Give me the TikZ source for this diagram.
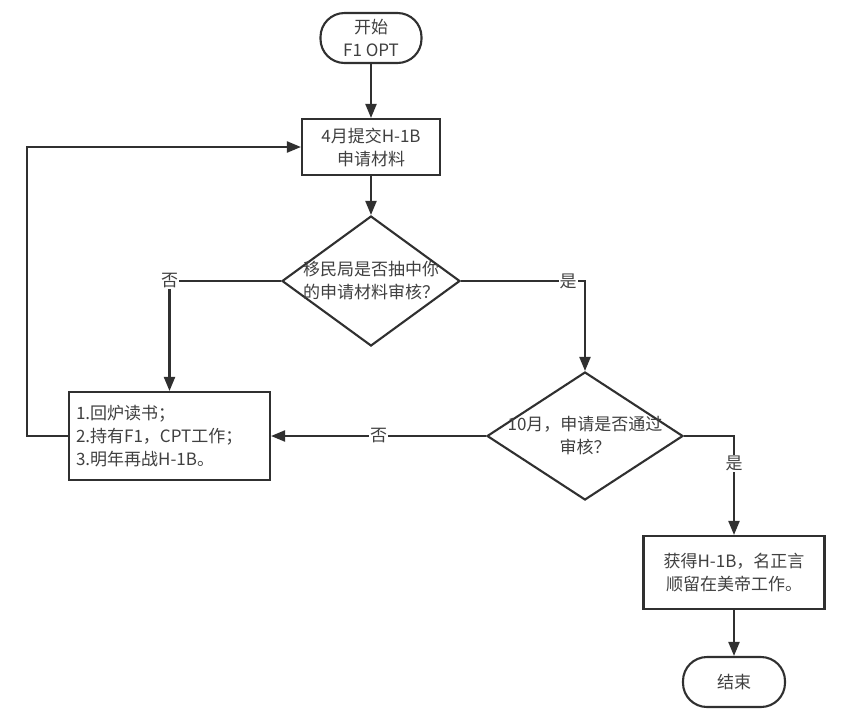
\documentclass[tikz,border=0pt]{standalone}
\usepackage{fontspec}
\setmainfont{Noto Sans CJK SC}
\usetikzlibrary{shapes.geometric,arrows.meta}
\definecolor{linec}{HTML}{303030}
\definecolor{textc}{HTML}{404040}
\begin{document}
\begin{tikzpicture}[x=1pt,y=-1pt,
  txt/.style={font=\fontsize{17}{23}\selectfont, text=textc},
  line/.style={draw=linec, line width=2.1pt},
  arr/.style={line, -{Triangle[length=14pt,width=11pt]}},
  term/.style={txt, draw=linec, line width=2.1pt, rectangle, rounded corners=24pt, minimum width=101pt, minimum height=50pt, inner sep=0pt, align=center},
  proc/.style={txt, draw=linec, line width=2.1pt, rectangle, inner sep=0pt, align=center},
  dec/.style={draw=linec, line width=2.1pt, diamond, inner sep=0pt},
  lbl/.style={txt, fill=white, inner sep=1pt}
]
\useasboundingbox[fill=white] (0,0) rectangle (852,724);

\node[term] (start) at (371,38) {开始\\F1 OPT};
\node[proc, minimum width=138pt, minimum height=56pt] (b1) at (371,147) {4月提交H-1B\\申请材料};
\node[dec, minimum width=178pt, minimum height=130pt] (d1) at (371,281) {};
\node[txt, align=center] (t1) at (371,281) {移民局是否抽中你\\的申请材料审核？};
\node[proc, minimum width=201pt, minimum height=88pt, align=left, text width=187pt] (b2) at (169.5,436) {1.回炉读书；\\2.持有F1，CPT工作；\\3.明年再战H-1B。};
\node[dec, minimum width=196pt, minimum height=128pt] (d2) at (585,436) {};
\node[txt, align=center] (t2) at (585,436) {10月，申请是否通过\\审核？};
\node[proc, minimum width=181pt, minimum height=73pt] (b3) at (734,572.5) {获得H-1B，名正言\\顺留在美帝工作。};
\node[term, minimum width=102pt] (end) at (734,682) {结束};

\draw[arr] (start) -- (b1);
\draw[arr] (b1) -- (d1);
\draw[arr] (d1.west) -| node[lbl, pos=0.5] {否} (b2.north);
\draw[arr] (d1.east) -| node[lbl, pos=0.432] {是} (d2.north);
\draw[arr] (d2.west) -- node[lbl] {否} (b2.east);
\draw[arr] (d2.east) -| node[lbl, pos=0.64] {是} (b3.north);
\draw[arr] (b2.west) -- ++(-41,0) |- (b1.west);
\draw[arr] (b3) -- (end);
\end{tikzpicture}
\end{document}
